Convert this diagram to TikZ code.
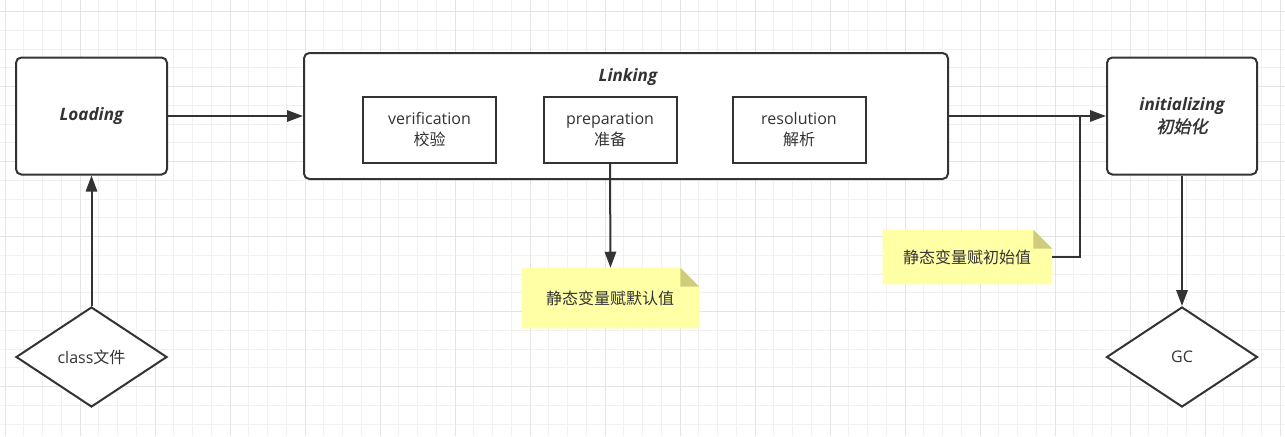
\documentclass[tikz,border=0pt]{standalone}
\usepackage{fontspec}
\setmainfont{Open Sans}
\newfontfamily\cjk{Noto Sans CJK SC}[AutoFakeSlant=0.2,AutoFakeBold=1.5]
\usetikzlibrary{positioning}
\usetikzlibrary{shapes,arrows.meta}
\definecolor{lineGray}{HTML}{333333}
\definecolor{gridMinor}{HTML}{F1F1F1}
\definecolor{gridMajor}{HTML}{E4E4E4}
\definecolor{noteFill}{HTML}{FFFFA6}
\definecolor{noteFold}{HTML}{CFCD7C}
\tikzset{
    phase/.style={draw=lineGray, line width=1.5pt, rounded corners=4pt, fill=white,
        text=lineGray, align=center, inner sep=0pt,
        font=\fontsize{12.8}{16.5}\selectfont\bfseries\itshape},
    substep/.style={draw=lineGray, line width=1.5pt, fill=white, text=lineGray,
        align=center, inner sep=0pt, minimum width=99.75pt, minimum height=49.5pt,
        font=\fontsize{12}{15.75}\selectfont},
    decision/.style={diamond, aspect=1.51, draw=lineGray, line width=1.5pt, fill=white,
        text=lineGray, inner sep=0pt, minimum width=113.25pt, minimum height=75pt,
        font=\fontsize{12}{15.75}\selectfont},
    note/.style={inner sep=0pt, text=lineGray, font=\fontsize{12}{15.75}\selectfont\cjk},
    flow/.style={draw=lineGray, line width=1.5pt, -{Triangle[length=12pt,width=8.5pt]}},
    link/.style={draw=lineGray, line width=1.5pt}
}
\begin{document}
\begin{tikzpicture}[x=0.75pt, y=-0.75pt]
    \useasboundingbox (0,0) rectangle (1285,436);
    % background grid
    \foreach \i in {0,...,68}
        \draw[gridMinor, line width=0.75pt] ({5+18.75*\i},0) -- ({5+18.75*\i},436);
    \foreach \i in {0,...,22}
        \draw[gridMinor, line width=0.75pt] (0,{11.7+18.75*\i}) -- (1285,{11.7+18.75*\i});
    \foreach \i in {0,...,17}
        \draw[gridMajor, line width=0.75pt] ({5+75*\i},0) -- ({5+75*\i},436);
    \foreach \i in {0,...,5}
        \draw[gridMajor, line width=0.75pt] (0,{11.7+75*\i}) -- (1285,{11.7+75*\i});

    \node[phase, minimum width=113.25pt, minimum height=87.75pt] (load) at (91.5,116) {Loading};
    \node[phase, minimum width=483pt, minimum height=94.5pt] (link) at (626,116) {};
    \node[text=lineGray, font=\fontsize{12.8}{16.5}\selectfont\bfseries\itshape] (linkname) at (628,77) {Linking};
    \node[substep] (verify) at (429.5,130) {verification\\{\cjk 校验}};
    \node[substep] (prepare) at (610,130) {preparation\\{\cjk 准备}};
    \node[substep] (resolve) at (799,130) {resolution\\{\cjk 解析}};
    \node[phase, minimum width=112.5pt, minimum height=87.75pt] (init) at (1182,116) {initializing\\{\cjk 初始化}};

    \node[decision] (cls) at (91.5,357) {class{\cjk 文件}};
    \node[decision] (gc) at (1182,357) {GC};

    % notes
    \node[minimum width=132.75pt, minimum height=45pt] (defnote) at (610.5,298) {};
    \fill[noteFill] (defnote.north west) -- ([xshift=-14.25pt]defnote.north east)
        -- ([yshift=-14.25pt]defnote.north east) -- (defnote.south east) -- (defnote.south west) -- cycle;
    \fill[noteFold] ([xshift=-14.25pt]defnote.north east) -- ([xshift=-14.25pt,yshift=-14.25pt]defnote.north east)
        -- ([yshift=-14.25pt]defnote.north east) -- cycle;
    \node[note] (deftext) at (610,298) {静态变量赋默认值};

    \node[minimum width=126.75pt, minimum height=40.5pt] (initnote) at (967.5,257) {};
    \fill[noteFill] (initnote.north west) -- ([xshift=-14.25pt]initnote.north east)
        -- ([yshift=-14.25pt]initnote.north east) -- (initnote.south east) -- (initnote.south west) -- cycle;
    \fill[noteFold] ([xshift=-14.25pt]initnote.north east) -- ([xshift=-14.25pt,yshift=-14.25pt]initnote.north east)
        -- ([yshift=-14.25pt]initnote.north east) -- cycle;
    \node[note] (inittext) at (967,257) {静态变量赋初始值};

    % connectors
    \draw[flow] (load.east) -- (link.west);
    \draw[flow] (link.east) -- (init.west);
    \draw[flow] (cls.north) -- (load.south);
    \draw[flow] (init.south) -- (gc.north);
    \draw[flow] (prepare.south) -- (defnote.north);
    \coordinate (join) at (1080,116);
    \draw[link] (initnote.east) -| (join);
\end{tikzpicture}
\end{document}
